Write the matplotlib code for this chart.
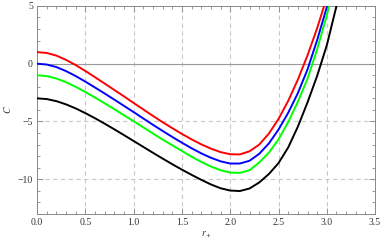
import matplotlib
matplotlib.use("Agg")
import matplotlib.pyplot as plt
from matplotlib.ticker import MultipleLocator

# values (r_+, C)
r_red = [0.0, 0.1, 0.2, 0.3, 0.4, 0.5, 0.6, 0.7, 0.8, 0.9, 1.0, 1.1, 1.2, 1.3, 1.4, 1.5,
         1.6, 1.7, 1.8, 1.9, 2.0, 2.1, 2.2, 2.3, 2.4, 2.5, 2.6, 2.7, 2.8, 2.9, 2.97, 3.0]
c_red = [1.00, 0.93, 0.70, 0.33, -0.12, -0.63, -1.17, -1.72, -2.27, -2.83, -3.40, -3.96,
         -4.52, -5.06, -5.58, -6.08, -6.55, -6.98, -7.35, -7.65, -7.84, -7.85, -7.58, -7.00,
         -6.05, -4.78, -3.22, -1.38, 0.72, 3.08, 4.95, 6.0]

r_blue = [0.0, 0.1, 0.2, 0.3, 0.4, 0.5, 0.6, 0.7, 0.8, 0.9, 1.0, 1.1, 1.2, 1.3, 1.4, 1.5,
          1.6, 1.7, 1.8, 1.9, 2.0, 2.1, 2.2, 2.3, 2.4, 2.5, 2.6, 2.7, 2.8, 2.9, 3.0, 3.03]
c_blue = [0.00, -0.07, -0.29, -0.64, -1.07, -1.55, -2.06, -2.58, -3.11, -3.65, -4.19, -4.74,
          -5.29, -5.82, -6.34, -6.84, -7.32, -7.76, -8.14, -8.45, -8.64, -8.64, -8.40, -7.80,
          -6.90, -5.70, -4.25, -2.55, -0.50, 2.05, 4.90, 6.0]

r_green = [0.0, 0.1, 0.2, 0.3, 0.4, 0.5, 0.6, 0.7, 0.8, 0.9, 1.0, 1.1, 1.2, 1.3, 1.4, 1.5,
           1.6, 1.7, 1.8, 1.9, 2.0, 2.1, 2.2, 2.3, 2.4, 2.5, 2.6, 2.7, 2.8, 2.9, 3.0, 3.04]
c_green = [-1.00, -1.07, -1.28, -1.60, -2.00, -2.45, -2.93, -3.43, -3.94, -4.46, -4.98, -5.51,
           -6.04, -6.56, -7.06, -7.55, -8.05, -8.50, -8.90, -9.22, -9.42, -9.45, -9.22, -8.55,
           -7.70, -6.55, -5.05, -3.30, -1.30, 1.25, 4.20, 5.6]

r_black = [0.0, 0.1, 0.2, 0.3, 0.4, 0.5, 0.6, 0.7, 0.8, 0.9, 1.0, 1.1, 1.2, 1.3, 1.4, 1.5,
           1.6, 1.7, 1.8, 1.9, 2.0, 2.1, 2.2, 2.3, 2.4, 2.5, 2.6, 2.7, 2.8, 2.9, 3.0, 3.1]
c_black = [-3.00, -3.06, -3.24, -3.52, -3.87, -4.28, -4.72, -5.19, -5.68, -6.18, -6.69, -7.20,
           -7.71, -8.21, -8.70, -9.17, -9.62, -10.05, -10.45, -10.78, -10.98, -11.02, -10.80,
           -10.28, -9.55, -8.60, -7.25, -5.45, -3.35, -1.05, 1.60, 5.0]

x_ticks = [0.0, 0.5, 1.0, 1.5, 2.0, 2.5, 3.0, 3.5]
y_ticks = [-10, -5, 0, 5]

plt.rcParams['font.family'] = ['Liberation Serif', 'DejaVu Serif']
plt.rcParams['mathtext.fontset'] = 'stix'

fig = plt.figure(figsize=(3.82, 2.47), dpi=100)
ax = fig.add_axes([0.097, 0.134, 0.885, 0.842])

# dashed grid and zero line
for xv in x_ticks[1:-1]:
    ax.axvline(xv, color='#c8c8c8', lw=0.8, ls=(0, (4, 3)), zorder=0)
for yv in [-10, -5]:
    ax.axhline(yv, color='#c8c8c8', lw=0.8, ls=(0, (4, 3)), zorder=0)
ax.axhline(0, color='#999999', lw=0.8, zorder=1)

for r, c, col in [(r_red, c_red, 'red'), (r_blue, c_blue, 'blue'),
                  (r_green, c_green, '#00ff00'), (r_black, c_black, 'black')]:
    ax.plot(r, c, color=col, lw=1.4, zorder=3)

ax.set_xlim(0, 3.5)
ax.set_ylim(-13, 5)
ax.set_xticks(x_ticks)
ax.set_yticks(y_ticks)
ax.set_xticklabels(['%.1f' % v for v in x_ticks])
ax.set_yticklabels(['\u221210', '\u22125', '0', '5'])
ax.xaxis.set_minor_locator(MultipleLocator(0.1))
ax.yaxis.set_minor_locator(MultipleLocator(1))
ax.tick_params(which='both', direction='in', top=True, right=True,
               colors='#888888', labelcolor='#333333', labelsize=7, width=0.6)
ax.tick_params(which='major', length=4, pad=3)
ax.tick_params(which='minor', length=2)
for s in ax.spines.values():
    s.set_color('#888888')
    s.set_linewidth(0.7)

ax.set_xlabel(r'$r_+$', fontsize=7, color='#333333', labelpad=2)
ax.set_ylabel(r'$C$', fontsize=7, color='#333333', labelpad=3)

fig.savefig('out.png', dpi=100)
